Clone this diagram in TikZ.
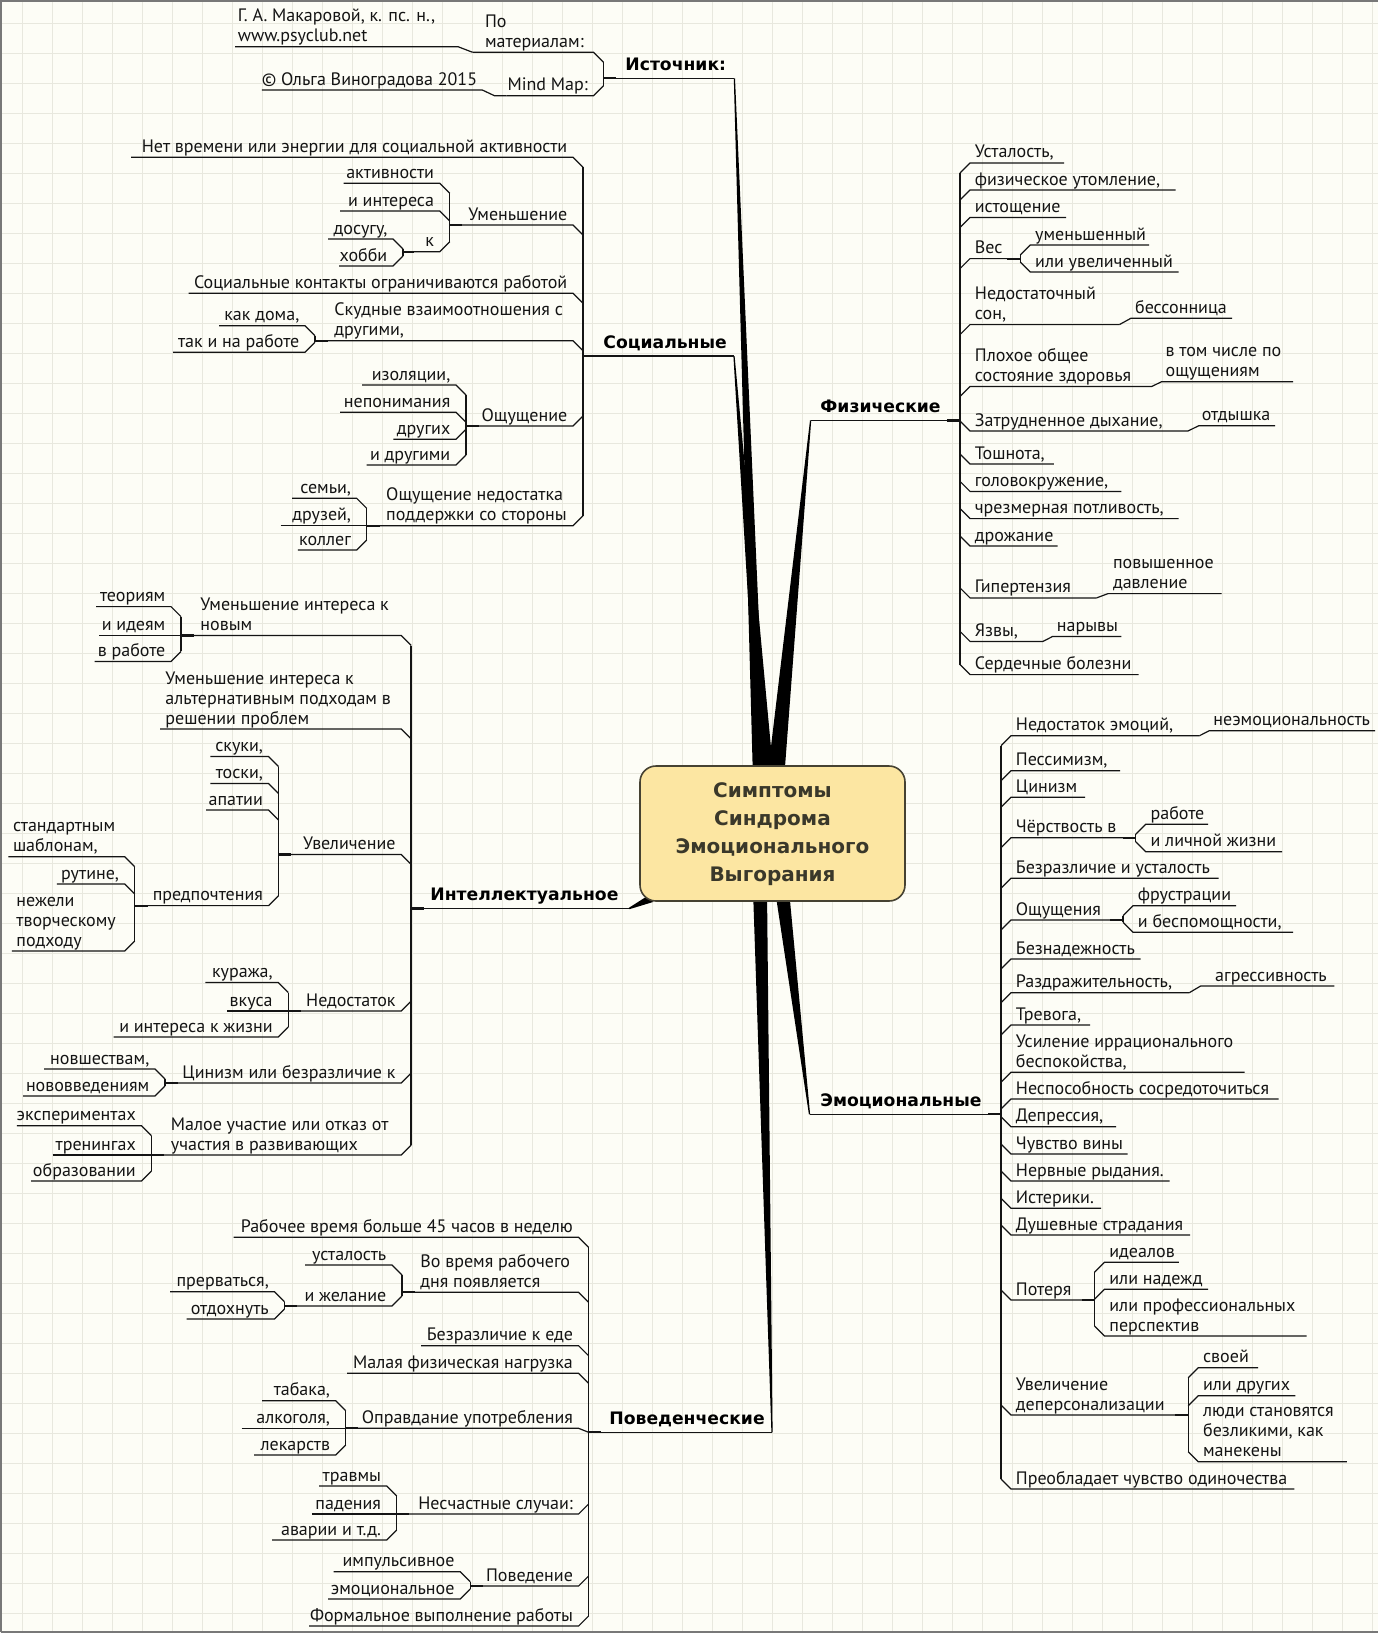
\documentclass[tikz,border=0pt]{standalone}
\usepackage{fontspec}
\setmainfont{PT Sans}
\newfontfamily\hdfont{DejaVu Sans}
\definecolor{bgc}{RGB}{253,253,246}
\definecolor{gridc}{RGB}{232,232,222}
\definecolor{framec}{RGB}{120,120,120}
\definecolor{boxfill}{RGB}{252,230,162}
\definecolor{boxdraw}{RGB}{70,66,50}
\definecolor{boxtext}{RGB}{58,56,42}
\definecolor{ink}{RGB}{20,20,20}
\newcommand\mlines[1]{\begin{tabular}[b]{@{}l@{}}#1\end{tabular}}
% left child: name, bracket x, y, dir, underline start, text
\newcommand\itemL[6]{%
  \draw[ln] (#5,#3) -- ({#2-10},#3) -- (#2,{#3+10*(#4)});
  \node[txt,anchor=base east] (#1) at ({#2-15.3},{#3-5}) {#6};}
% left child, multi-line, left aligned at x #6
\newcommand\itemLm[7]{%
  \draw[ln] (#5,#3) -- ({#2-10},#3) -- (#2,{#3+10*(#4)});
  \node[txt,anchor=base west] (#1) at (#6,{#3-5}) {\mlines{#7}};}
% right child: name, bracket x, y, dir, underline end, text
\newcommand\itemR[6]{%
  \draw[ln] (#5,#3) -- ({#2+10},#3) -- (#2,{#3+10*(#4)});
  \node[txt,anchor=base west] (#1) at ({#2+14.5},{#3-5}) {#6};}
\tikzset{
  ln/.style={line width=0.6pt, draw=ink},
  mainbr/.style={line width=0.85pt, draw=ink},
  stubln/.style={line width=1.1pt, draw=ink},
  gridln/.style={line width=0.7pt, draw=gridc},
  txt/.style={inner sep=0pt, align=left, font=\fontsize{9}{10}\selectfont, text=ink},
  hd/.style={inner sep=0pt, anchor=base west, text=black, font=\hdfont\bfseries\fontsize{8.6}{10}\selectfont},
  wedge/.style={fill=black, draw=none},
}
\begin{document}
\begin{tikzpicture}[x=0.5pt,y=-0.5pt]
\useasboundingbox (0,0) rectangle (1378,1633);
\fill[bgc] (0,0) rectangle (1378,1633);
\foreach \i in {0,...,45} \draw[gridln] ({22.3+30*\i},0) -- ({22.3+30*\i},1633);
\foreach \j in {0,...,53} \draw[gridln] (0,{23.3+30*\j}) -- (1378,{23.3+30*\j});
\draw[framec, line width=0.8pt] (0.8,1632.2) -- (0.8,0.8) -- (1378,0.8);
\draw[framec, line width=0.8pt] (0.8,1632.2) -- (1378,1632.2);

% ===== wedges to the centre =====
\fill[wedge] (733.8,78.3) -- (735,78.3) -- (766,780) -- (753,780) -- cycle;
\fill[wedge] (733.4,356) -- (734.6,356) -- (774,780) -- (759,780) -- cycle;
\fill[wedge] (810,420.4) -- (811.2,420.4) -- (784,780) -- (767,780) -- cycle;
\fill[wedge] (753,890) -- (767,890) -- (772.6,1432.3) -- (771.4,1432.3) -- cycle;
\fill[wedge] (775,890) -- (789,890) -- (810.1,1114.3) -- (808.9,1114.3) -- cycle;
\fill[wedge] (628.6,908) -- (629.4,909.2) -- (653,902) -- (649,895) -- cycle;

\node[draw=boxdraw, fill=boxfill, line width=0.8pt, rounded corners=8pt,
  minimum width=132.5pt, minimum height=67.5pt, inner sep=0pt, text=boxtext,
  font=\hdfont\bfseries\fontsize{10}{14}\selectfont] (root) at (772.5,833.5)
  {\begin{tabular}{@{}c@{}}Симптомы\\Синдрома\\Эмоционального\\Выгорания\end{tabular}};

% ===== Источник =====
\draw[mainbr] (603.5,62.3) -- (603.5,85.7);
\draw[ln] (603.5,78.3) -- (734.4,78.3);
\draw[stubln] (603.5,78.3) -- (616,78.3);
\node[hd] (src) at (625,70.3) {Источник:};
\itemLm{pm}{603.5}{52.3}{1}{472.6}{484.7}{По\\материалам:}
\itemL{mm}{603.5}{95.7}{-1}{506.5}{Mind Map:}
\draw[ln] (235,46.7) -- (458,46.7) -- (472.6,52.3);
\node[txt,anchor=base west] (mak) at (237.5,41.7) {\mlines{Г. А. Макаровой, к. пс. н.,\\www.psyclub.net}};
\draw[ln] (261.8,90) -- (482.3,90) -- (494.4,95.7) -- (506.5,95.7);
\node[txt,anchor=base east] (olga) at (477.5,85) {© Ольга Виноградова 2015};

% ===== Социальные =====
\draw[mainbr] (583,167.3) -- (583,515.7);
\draw[ln] (583,356) -- (734,356);
\draw[stubln] (583,356) -- (596,356);
\node[hd] (soc) at (603,348.3) {Социальные};
\itemL{s1}{583}{157.3}{1}{131}{Нет времени или энергии для социальной активности}
\itemL{s2}{583}{225}{1}{449.7}{Уменьшение}
\itemL{s3}{583}{293.3}{1}{188.7}{Социальные контакты ограничиваются работой}
\itemLm{s4}{583}{340.7}{1}{315}{334}{Скудные взаимоотношения с\\другими,}
\itemL{s5}{583}{426}{-1}{466}{Ощущение}
\itemLm{s6}{583}{525.7}{-1}{366.7}{385.8}{Ощущение недостатка\\поддержки со стороны}
\draw[ln] (449.7,193.3) -- (449.7,241.7);
\draw[stubln] (449.7,225) -- (462,225);
\itemL{s21}{449.7}{183.3}{1}{343.7}{активности}
\itemL{s22}{449.7}{211}{1}{340}{и интереса}
\itemL{s23}{449.7}{251.7}{-1}{403}{к}
\draw[ln] (403,249) -- (403,256);
\draw[stubln] (403,251.7) -- (414,251.7);
\itemL{s231}{403}{239}{1}{328}{досугу,}
\itemL{s232}{403}{266}{-1}{339}{хобби}
\draw[ln] (315,335.7) -- (315,342.3);
\draw[stubln] (315,340.7) -- (328,340.7);
\itemL{s41}{315}{325.7}{1}{219}{как дома,}
\itemL{s42}{315}{352.3}{-1}{173}{так и на работе}
\draw[ln] (466,395) -- (466,455);
\draw[stubln] (466,426) -- (479,426);
\itemL{s51}{466}{385}{1}{362}{изоляции,}
\itemL{s52}{466}{412.3}{1}{340}{непонимания}
\itemL{s53}{466}{439.3}{-1}{393.4}{других}
\itemL{s54}{466}{465}{-1}{366.7}{и другими}
\draw[ln] (366.7,508.3) -- (366.7,540);
\draw[stubln] (366.7,525.7) -- (380,525.7);
\itemL{s61}{366.7}{498.3}{1}{292}{семьи,}
\itemL{s62}{366.7}{525.7}{0}{280.5}{друзей,}
\itemL{s63}{366.7}{550}{-1}{297.8}{коллег}

% ===== Интеллектуальное =====
\draw[mainbr] (411.2,645.5) -- (411.2,1145);
\draw[ln] (411.2,908.5) -- (629,908.5);
\draw[stubln] (411.2,908.5) -- (424,908.5);
\node[hd] (intl) at (430,900.5) {Интеллектуальное};
\itemLm{i1}{411.2}{635.5}{1}{181}{200}{Уменьшение интереса к\\новым}
\itemLm{i2}{411.2}{729}{1}{160}{165}{Уменьшение интереса к\\альтернативным подходам в\\решении проблем}
\itemL{i3}{411.2}{854.5}{1}{278.6}{Увеличение}
\itemL{i4}{411.2}{1011}{-1}{288.3}{Недостаток}
\itemL{i5}{411.2}{1083}{-1}{165}{Цинизм или безразличие к}
\itemLm{i6}{411.2}{1155}{-1}{151.5}{170.5}{Малое участие или отказ от\\участия в развивающих}
\draw[ln] (181,616.6) -- (181,651.4);
\draw[stubln] (181,635.5) -- (194,635.5);
\itemL{i11}{181}{606.6}{1}{96}{теориям}
\itemL{i12}{181}{635.5}{0}{99}{и идеям}
\itemL{i13}{181}{661.4}{-1}{94.7}{в работе}
\draw[ln] (278.6,766.5) -- (278.6,895.6);
\draw[stubln] (278.6,854.5) -- (291,854.5);
\itemL{i31}{278.6}{756.5}{1}{210.4}{скуки,}
\itemL{i32}{278.6}{783.5}{1}{210.4}{тоски,}
\itemL{i33}{278.6}{810}{1}{206}{апатии}
\itemL{i34}{278.6}{905.6}{-1}{134.7}{предпочтения}
\draw[ln] (134.7,866.7) -- (134.7,941);
\draw[stubln] (134.7,905.6) -- (148,905.6);
\itemLm{i341}{134.7}{856.7}{1}{8.4}{12.6}{стандартным\\шаблонам,}
\itemL{i342}{134.7}{884}{1}{56.8}{рутине,}
\itemLm{i343}{134.7}{951}{-1}{11.8}{16}{нежели\\творческому\\подходу}
\draw[ln] (288.3,992.5) -- (288.3,1027);
\draw[stubln] (288.3,1011) -- (301,1011);
\itemL{i41}{288.3}{982.5}{1}{205.4}{куража,}
\itemL{i42}{288.3}{1011}{0}{227}{вкуса}
\itemL{i43}{288.3}{1037}{-1}{113.6}{и интереса к жизни}
\draw[ln] (165,1079) -- (165,1086);
\draw[stubln] (165,1083) -- (178,1083);
\itemL{i51}{165}{1069}{1}{44.2}{новшествам,}
\itemL{i52}{165}{1096}{-1}{23}{нововведениям}
\draw[ln] (151.5,1135.7) -- (151.5,1171);
\draw[stubln] (151.5,1155) -- (164,1155);
\itemL{i61}{151.5}{1125.7}{1}{16.8}{экспериментах}
\itemL{i62}{151.5}{1155}{0}{52.6}{тренингах}
\itemL{i63}{151.5}{1181}{-1}{31}{образовании}

% ===== Поведенческие =====
\draw[mainbr] (588.6,1247.3) -- (588.6,1616);
\draw[ln] (588.6,1432.3) -- (772,1432.3);
\draw[stubln] (588.6,1432.3) -- (601,1432.3);
\node[hd] (beh) at (609,1424.5) {Поведенческие};
\itemL{b1}{588.6}{1237.3}{1}{233.5}{Рабочее время больше 45 часов в неделю}
\itemLm{b2}{588.6}{1292.3}{1}{402}{420}{Во время рабочего\\дня появляется}
\itemL{b3}{588.6}{1345.7}{1}{421}{Безразличие к еде}
\itemL{b4}{588.6}{1373.3}{1}{347}{Малая физическая нагрузка}
\itemL{b5}{588.6}{1428.3}{0.4}{345.7}{Оправдание употребления}
\itemL{b6}{588.6}{1514}{-1}{396.7}{Несчастные случаи:}
\itemL{b7}{588.6}{1586}{-1}{470.2}{Поведение}
\itemL{b8}{588.6}{1626}{-1}{309}{Формальное выполнение работы}
\draw[ln] (402,1275) -- (402,1296);
\draw[stubln] (402,1292.3) -- (415,1292.3);
\itemL{b21}{402}{1265}{1}{305}{усталость}
\itemL{b22}{402}{1306}{-1}{284.5}{и желание}
\draw[ln] (284.5,1301.7) -- (284.5,1309);
\draw[stubln] (284.5,1306) -- (297,1306);
\itemL{b221}{284.5}{1291.7}{1}{170}{прерваться,}
\itemL{b222}{284.5}{1319}{-1}{186.5}{отдохнуть}
\draw[ln] (345.7,1410.7) -- (345.7,1445);
\draw[stubln] (345.7,1428.3) -- (358,1428.3);
\itemL{b51}{345.7}{1400.7}{1}{262}{табака,}
\itemL{b52}{345.7}{1428.3}{0}{241.6}{алкоголя,}
\itemL{b53}{345.7}{1455}{-1}{254}{лекарств}
\draw[ln] (396.7,1496) -- (396.7,1530);
\draw[stubln] (396.7,1514) -- (409,1514);
\itemL{b61}{396.7}{1486}{1}{319}{травмы}
\itemL{b62}{396.7}{1514}{0}{311.8}{падения}
\itemL{b63}{396.7}{1540}{-1}{272}{аварии и т.д.}
\draw[ln] (470.2,1581.7) -- (470.2,1589);
\draw[stubln] (470.2,1586) -- (483,1586);
\itemL{b71}{470.2}{1571.7}{1}{333.5}{импульсивное}
\itemL{b72}{470.2}{1599}{-1}{328}{эмоциональное}

% ===== Физические =====
\draw[mainbr] (960,172.9) -- (960,664.6);
\draw[ln] (810.5,420.4) -- (960,420.4);
\draw[stubln] (947,420.4) -- (960,420.4);
\node[hd] (phy) at (820,412.4) {Физические};
\itemR{p1}{960}{162.9}{1}{1064}{Усталость,}
\itemR{p2}{960}{190}{1}{1175.5}{физическое утомление,}
\itemR{p3}{960}{217.5}{1}{1066}{истощение}
\itemR{p4}{960}{258.6}{1}{1020.3}{Вес}
\itemR{p5}{960}{324.6}{1}{1119.4}{\mlines{Недостаточный\\сон,}}
\itemR{p6}{960}{386.4}{1}{1151.9}{\mlines{Плохое общее\\состояние здоровья}}
\itemR{p7}{960}{431}{-1}{1188}{Затрудненное дыхание,}
\itemR{p8}{960}{464}{-1}{1053.8}{Тошнота,}
\itemR{p9}{960}{491.4}{-1}{1121.3}{головокружение,}
\itemR{p10}{960}{518.6}{-1}{1178.6}{чрезмерная потливость,}
\itemR{p11}{960}{546}{-1}{1057.6}{дрожание}
\itemR{p12}{960}{597.9}{-1}{1096.6}{Гипертензия}
\itemR{p13}{960}{641.4}{-1}{1043}{Язвы,}
\itemR{p14}{960}{674.6}{-1}{1138.5}{Сердечные болезни}
\draw[ln] (1020.3,255) -- (1020.3,262);
\draw[stubln] (1007,258.6) -- (1020.3,258.6);
\itemR{p41}{1020.3}{245}{1}{1149}{уменьшенный}
\itemR{p42}{1020.3}{272}{-1}{1178.6}{или увеличенный}
\draw[ln] (1119.4,324.6) -- (1131,318.2) -- (1232,318.2);
\node[txt,anchor=base west] (p51) at (1134.7,313.2) {бессонница};
\draw[ln] (1151.9,386.4) -- (1161.4,381.8) -- (1293,381.8);
\node[txt,anchor=base west] (p61) at (1165.2,376.8) {\mlines{в том числе по\\ощущениям}};
\draw[ln] (1188,431) -- (1198.8,425.7) -- (1275,425.7);
\node[txt,anchor=base west] (p71) at (1201.4,420.7) {отдышка};
\draw[ln] (1096.6,597.9) -- (1108,593.6) -- (1221.6,593.6);
\node[txt,anchor=base west] (p121) at (1112.6,588.6) {\mlines{повышенное\\давление}};
\draw[ln] (1043,641.4) -- (1052.7,636.4) -- (1121.3,636.4);
\node[txt,anchor=base west] (p131) at (1056.5,631.4) {нарывы};

% ===== Эмоциональные =====
\draw[mainbr] (1001,745.7) -- (1001,1479);
\draw[ln] (809.5,1114.3) -- (1001,1114.3);
\draw[stubln] (988,1114.3) -- (1001,1114.3);
\node[hd] (emo) at (820,1106.3) {Эмоциональные};
\itemR{e1}{1001}{735.7}{1}{1199.5}{Недостаток эмоций,}
\itemR{e2}{1001}{770.7}{1}{1120}{Пессимизм,}
\itemR{e3}{1001}{797.3}{1}{1085}{Цинизм}
\itemR{e4}{1001}{837.7}{1}{1135.7}{Чёрствость в}
\itemR{e5}{1001}{878.3}{1}{1218.6}{Безразличие и усталость}
\itemR{e6}{1001}{920}{1}{1123}{Ощущения}
\itemR{e7}{1001}{959}{1}{1140.6}{Безнадежность}
\itemR{e8}{1001}{992.7}{1}{1189.3}{Раздражительность,}
\itemR{e9}{1001}{1025}{1}{1090}{Тревога,}
\itemR{e10}{1001}{1072.3}{1}{1244.5}{\mlines{Усиление иррационального\\беспокойства,}}
\itemR{e11}{1001}{1099}{1}{1278.6}{Неспособность сосредоточиться}
\itemR{e12}{1001}{1126.7}{-1}{1116.2}{Депрессия,}
\itemR{e13}{1001}{1154}{-1}{1127.5}{Чувство вины}
\itemR{e14}{1001}{1181}{-1}{1169.5}{Нервные рыдания.}
\itemR{e15}{1001}{1208.3}{-1}{1101.2}{Истерики.}
\itemR{e16}{1001}{1235}{-1}{1190}{Душевные страдания}
\itemR{e17}{1001}{1300}{-1}{1094.5}{Потеря}
\itemR{e18}{1001}{1415}{-1}{1188.2}{\mlines{Увеличение\\деперсонализации}}
\itemR{e19}{1001}{1489}{-1}{1294.3}{Преобладает чувство одиночества}
\draw[ln] (1199.5,735.7) -- (1209.2,730.7) -- (1375,730.7);
\node[txt,anchor=base west] (e1x) at (1213,725.7) {неэмоциональность};
\draw[ln] (1189.3,992.7) -- (1200.6,986) -- (1334.4,986);
\node[txt,anchor=base west] (e8x) at (1214.8,981) {агрессивность};
\draw[ln] (1135.7,834.3) -- (1135.7,841.7);
\draw[stubln] (1123,837.7) -- (1135.7,837.7);
\itemR{e41}{1135.7}{824.3}{1}{1208}{работе}
\itemR{e42}{1135.7}{851.7}{-1}{1282}{и личной жизни}
\draw[ln] (1123,915.7) -- (1123,922.3);
\draw[stubln] (1110,920) -- (1123,920);
\itemR{e61}{1123}{905.7}{1}{1236}{фрустрации}
\itemR{e62}{1123}{932.3}{-1}{1293.2}{и беспомощности,}
\draw[ln] (1094.5,1272.3) -- (1094.5,1326);
\draw[stubln] (1082,1300) -- (1094.5,1300);
\itemR{e171}{1094.5}{1262.3}{1}{1178.8}{идеалов}
\itemR{e172}{1094.5}{1289.3}{1}{1208}{или надежд}
\itemR{e173}{1094.5}{1336}{-1}{1306.7}{\mlines{или профессиональных\\перспектив}}
\draw[ln] (1188.2,1377.7) -- (1188.2,1451.7);
\draw[stubln] (1175,1415) -- (1188.2,1415);
\itemR{e181}{1188.2}{1367.7}{1}{1258}{своей}
\itemR{e182}{1188.2}{1395.7}{1}{1295.4}{или других}
\itemR{e183}{1188.2}{1461.7}{-1}{1346.8}{\mlines{люди становятся\\безликими, как\\манекены}}
\end{tikzpicture}
\end{document}
